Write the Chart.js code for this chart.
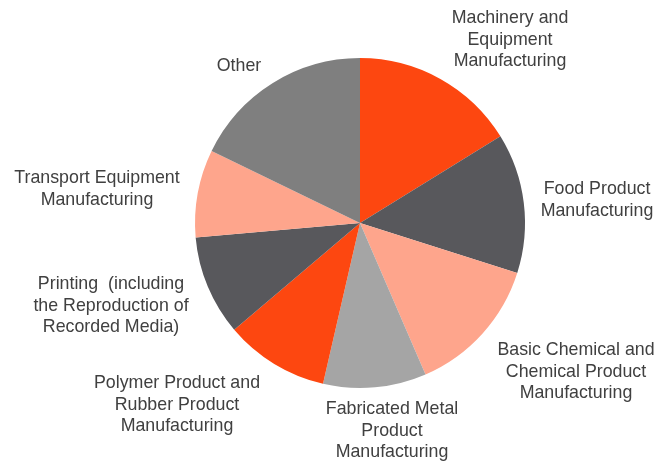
<!DOCTYPE html>
<html>
<head>
<meta charset="utf-8">
<script src="https://cdn.jsdelivr.net/npm/chart.js@4"></script>
<style>
html,body{margin:0;padding:0;background:#fff;}
#wrap{width:654px;height:461px;position:relative;}
</style>
</head>
<body>
<div id="wrap"><canvas id="pie" width="654" height="461"></canvas></div>
<script>
// categories and shares (clockwise from 12 o'clock)
const categories=[
    ["Machinery and","Equipment","Manufacturing"],
    ["Food Product","Manufacturing"],
    ["Basic Chemical and","Chemical Product","Manufacturing"],
    ["Fabricated Metal","Product","Manufacturing"],
    ["Polymer Product and","Rubber Product","Manufacturing"],
    ["Printing  (including","the Reproduction of","Recorded Media)"],
    ["Transport Equipment","Manufacturing"],
    ["Other"]
];
const shares=[16.2,13.7,13.6,10.1,10.2,9.8,8.6,17.8];
const sliceColors=["#FD4710","#58585C","#FEA58C","#A5A5A5","#FD4710","#58585C","#FEA58C","#7F7F7F"];

// label centre offsets from the pie centre (px), one per category
const labelOffsets=[[150,-183],[237,-23],[216,149],[32,208],[-183,182],[-249,83],[-263,-34],[-121,-157]];

const labelPlugin={
    id:'outsideLabels',
    afterDatasetsDraw(chart){
        const ctx=chart.ctx;
        const arc=chart.getDatasetMeta(0).data[0];
        const cx=arc.x, cy=arc.y;
        ctx.save();
        ctx.font='17.8px "Liberation Sans", Arial, sans-serif';
        ctx.fillStyle='#404040';
        ctx.textAlign='center';
        ctx.textBaseline='middle';
        const lh=21.5;
        categories.forEach((lines,i)=>{
            const [ox,oy]=labelOffsets[i];
            const top=cy+oy-(lines.length-1)*lh/2;
            lines.forEach((t,j)=>ctx.fillText(t,cx+ox,top+j*lh));
        });
        ctx.restore();
    }
};

new Chart(document.getElementById('pie'),{
    type:'pie',
    data:{
        labels:categories.map(l=>l.join(' ')),
        datasets:[{data:shares,backgroundColor:sliceColors,borderWidth:0}]
    },
    options:{
        responsive:false,
        animation:false,
        layout:{padding:{left:195,right:129,top:58,bottom:73}},
        plugins:{legend:{display:false},tooltip:{enabled:false}}
    },
    plugins:[labelPlugin]
});
</script>
</body>
</html>
